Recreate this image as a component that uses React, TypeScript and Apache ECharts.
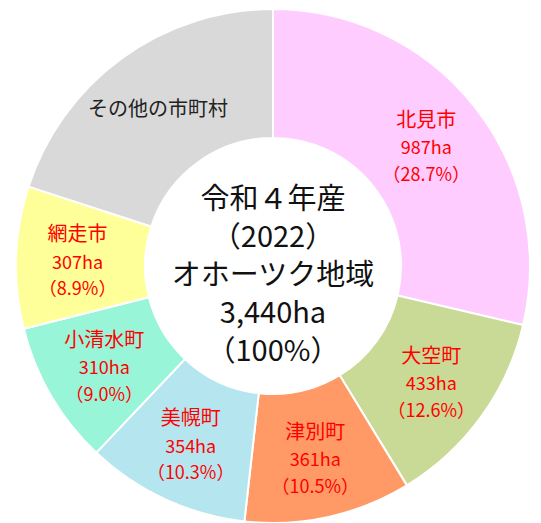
import React, { useEffect, useRef } from "react";
import * as echarts from "echarts";

const names = ["北見市", "大空町", "津別町", "美幌町", "小清水町", "網走市", "その他の市町村"];
const values = [987, 433, 361, 354, 310, 307, 688];
const percents = ["28.7", "12.6", "10.5", "10.3", "9.0", "8.9", "20.0"];
const showValue = [true, true, true, true, true, true, false];
const colors = ["#FFCCFF", "#C9D996", "#FF9966", "#B5E6EF", "#98F5D8", "#FFFF99", "#D9D9D9"];
const centerLines = ["令和４年産", "（2022）", "オホーツク地域", "3,440ha", "（100%）"];

const FONT = '"Noto Sans CJK JP", "Noto Sans", sans-serif';

export default function App() {
  const ref = useRef<HTMLDivElement>(null);
  useEffect(() => {
    if (!ref.current) return;
    const chart = echarts.init(ref.current, undefined, { renderer: "svg" });
    const data = names.map((n, i) => ({
      name: n,
      value: values[i],
      itemStyle: { color: colors[i] },
      label: showValue[i]
        ? {
            formatter: `{n|${n}}\n{v|${values[i]}ha}\n{p|（${percents[i]}%）}`,
          }
        : { formatter: `{o|${n}}` },
    }));
    chart.setOption({
      animation: false,
      backgroundColor: "#ffffff",
      series: [
        {
          type: "pie",
          center: [273, 266],
          radius: [128, 257],
          startAngle: 90,
          clockwise: true,
          avoidLabelOverlap: false,
          itemStyle: { borderColor: "#ffffff", borderWidth: 2 },
          label: {
            show: true,
            position: "inside",
            fontFamily: FONT,
            rich: {
              n: { fontSize: 20, color: "#FF0000", fontFamily: FONT, lineHeight: 29 },
              v: { fontSize: 18, color: "#FF0000", fontFamily: FONT, lineHeight: 27 },
              p: { fontSize: 18, color: "#FF0000", fontFamily: FONT, lineHeight: 26 },
              o: { fontSize: 20, color: "#222222", fontFamily: FONT },
            },
          },
          labelLine: { show: false },
          emphasis: { disabled: true },
          data,
        },
      ],
      graphic: [
        {
          type: "text",
          x: 273,
          y: 272,
          style: {
            text: centerLines.join("\n"),
            fill: "#111111",
            fontSize: 29,
            lineHeight: 38,
            fontFamily: FONT,
            textAlign: "center",
            textVerticalAlign: "middle",
          },
        },
      ],
    });
    return () => chart.dispose();
  }, []);
  return (
    <div
      ref={ref}
      style={{ position: "absolute", left: 0, top: 0, width: 541, height: 523 }}
    />
  );
}
